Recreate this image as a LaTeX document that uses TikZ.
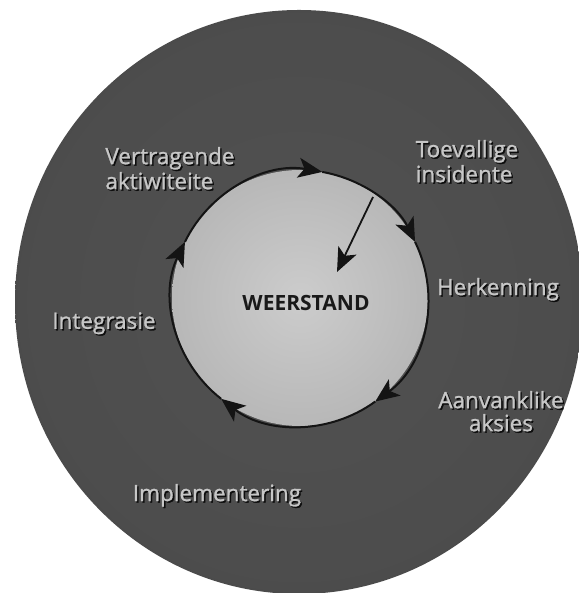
\documentclass[tikz,border=0pt]{standalone}
\usepackage{fontspec}
\setmainfont{Open Sans}
\newfontfamily\stagefont[FakeBold=1.2]{Open Sans}
\usepackage{xcolor}
\usepackage{tikz}
\usetikzlibrary{arrows.meta}
\tikzset{every node/.append style={font=\fontsize{22.5}{23}\selectfont}}
\tikzset{stagetext/.style={text=black!22, inner sep=0pt, font=\stagefont\fontsize{22.5}{23}\selectfont}}
\pgfdeclareradialshading{ringshade}{\pgfpoint{0bp}{0bp}}{color(0bp)=(black!68); color(24bp)=(black!70); color(40bp)=(black!78); color(47bp)=(black!88); color(50bp)=(black!94)}
\newcommand{\shtext}[1]{\rlap{\kern1.5pt\raisebox{-1.5pt}{\textcolor{black!95}{#1}}}#1}

\begin{document}
\begin{tikzpicture}[x=1pt, y=1pt]
    \useasboundingbox (0,0) rectangle (578,593);
    % dark ring and light disc
    \shade[shading=ringshade] (299,291) ellipse [x radius=284, y radius=292];
    \coordinate (c) at (300,295);
    \shade[inner color=black!20, outer color=black!28] (c) circle (128);
    % the cycle, clockwise
    \foreach \s/\e in {154/80, 80/26, 26/-54, -54/-128, 232/154} {
        \path (c) ++(\s:128) coordinate (from);
        \draw[-{Stealth[length=24pt,width=20pt,inset=6pt]}, line width=2pt, black!92] (from) arc[start angle=\s, end angle=\e, radius=128];
    }
    % incidents pushing in
    \coordinate (hit) at (373,396);
    \coordinate (aim) at (337,321);
    \draw[-{Stealth[length=24pt,width=20pt,inset=6pt]}, line width=1.8pt, black!92] (hit) -- (aim);
    \node[font=\fontsize{21}{23}\selectfont\bfseries, text=black!90] (weer) at (306,290) {WEERSTAND};
    \node[stagetext, align=left] (vertr) at (170,424) {\shtext{Vertragende}\\\shtext{aktiwiteite}};
    \node[stagetext, align=left] (toev) at (467,431) {\shtext{Toevallige}\\\shtext{insidente}};
    \node[stagetext] (herk) at (498,303) {\shtext{Herkenning}};
    \node[stagetext, align=center] (aanv) at (501,181) {\shtext{Aanvanklike}\\\shtext{aksies}};
    \node[stagetext] (impl) at (217,97) {\shtext{Implementering}};
    \node[stagetext] (integ) at (104,269) {\shtext{Integrasie}};
\end{tikzpicture}
\end{document}
